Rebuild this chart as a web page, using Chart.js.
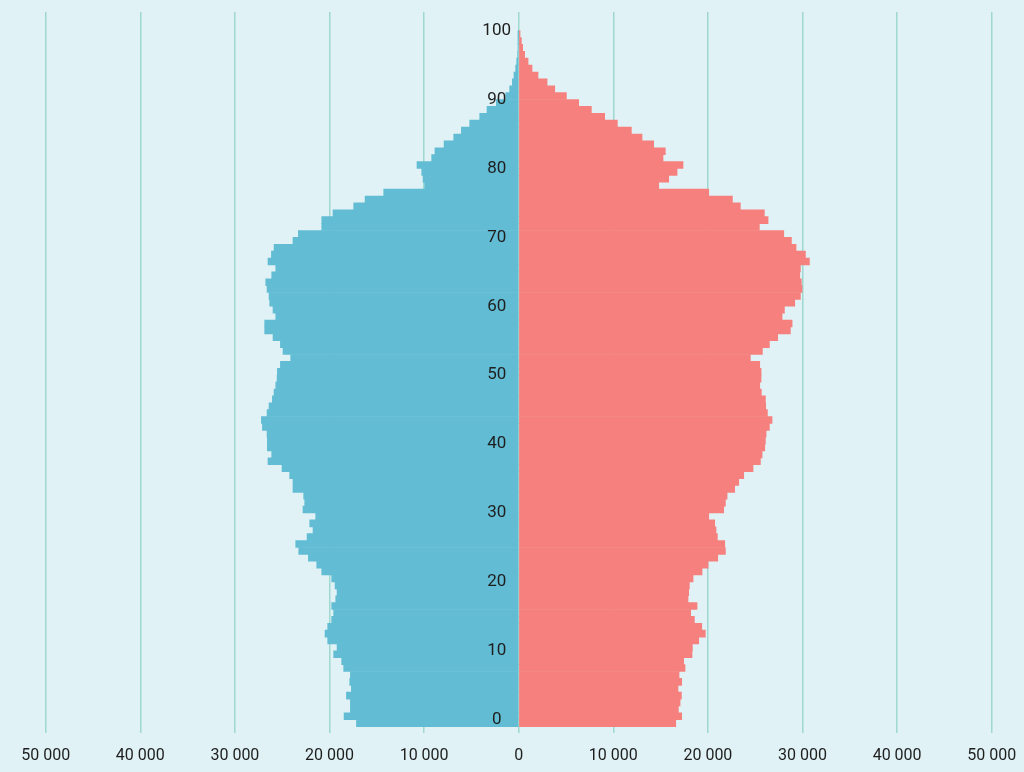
<!DOCTYPE html>
<html>
<head>
<meta charset="utf-8">
<script src="https://cdn.jsdelivr.net/npm/chart.js@4.4.1/dist/chart.umd.min.js"></script>
<style>
  html, body { margin: 0; padding: 0; background: #e0f2f5; }
  #pyramid { display: block; }
</style>
</head>
<body>
<canvas id="pyramid" width="1024" height="772"></canvas>
<script>
const ages = [
  0, 1, 2, 3, 4, 5, 6, 7, 8, 9, 10, 11, 12, 13, 14, 15, 16, 17, 18, 19,
  20, 21, 22, 23, 24, 25, 26, 27, 28, 29, 30, 31, 32, 33, 34, 35, 36, 37, 38, 39,
  40, 41, 42, 43, 44, 45, 46, 47, 48, 49, 50, 51, 52, 53, 54, 55, 56, 57, 58, 59,
  60, 61, 62, 63, 64, 65, 66, 67, 68, 69, 70, 71, 72, 73, 74, 75, 76, 77, 78, 79,
  80, 81, 82, 83, 84, 85, 86, 87, 88, 89, 90, 91, 92, 93, 94, 95, 96, 97, 98, 99, 100,
];

const males = [
  17150, 18460, 17790, 17790, 18210, 17690, 17860, 17790, 18500, 18710,
  19560, 19200, 20190, 20470, 20190, 19770, 19560, 19770, 19340, 19200,
  19410, 19770, 20820, 21350, 22230, 23250, 23570, 22370, 21740, 22090,
  21460, 22800, 22620, 22730, 23860, 23860, 24210, 25020, 26500, 26110,
  26570, 26570, 26600, 27090, 27200, 26600, 26390, 26040, 25860, 25680,
  25540, 25510, 25190, 24100, 24910, 25190, 25970, 26850, 26850, 25680,
  25970, 26320, 26390, 26600, 26740, 26110, 25680, 26500, 26140, 25860,
  23860, 23290, 20820, 20820, 19630, 17440, 16240, 14270, 9940, 10110,
  10250, 10750, 9200, 8850, 7890, 6870, 6060, 5180, 4120, 3350,
  2360, 1370, 950, 670, 500, 320, 210, 110, 70, 40, 20,
];

const females = [
  16600, 17230, 16880, 17060, 17200, 16840, 17230, 16950, 17580, 17440,
  18320, 18360, 19030, 19730, 19350, 18570, 18180, 18850, 17900, 17970,
  18040, 18430, 19380, 20020, 21040, 21850, 21780, 21000, 20860, 20720,
  20090, 21670, 21850, 22030, 22830, 23260, 23790, 24770, 25550, 25730,
  26010, 26080, 26150, 26500, 26780, 26290, 26110, 26080, 25650, 25480,
  25620, 25620, 25480, 24490, 25760, 26500, 27380, 28720, 28900, 27840,
  28090, 29180, 29780, 29950, 29880, 29710, 29780, 30730, 30310, 29320,
  28830, 28020, 25440, 26360, 25970, 23430, 22590, 20090, 14800, 15860,
  16740, 17370, 15260, 15500, 14270, 13040, 11910, 10430, 9090, 7680,
  6340, 5040, 3810, 3000, 2040, 1410, 990, 630, 420, 280, 140,
];

const ageTicks = [0, 10, 20, 30, 40, 50, 60, 70, 80, 90, 100];

function fmt(v) {
  return String(Math.abs(v)).replace(/\B(?=(\d{3})+(?!\d))/g, " ");
}

// age labels sit in the middle, just left of the zero line
const ageLabels = {
  id: "ageLabels",
  afterDraw(chart) {
    const { ctx, scales } = chart;
    const x0 = scales.x.getPixelForValue(0);
    ctx.save();
    ctx.font = "17px Roboto";
    ctx.fillStyle = "#1e1e1e";
    ctx.textAlign = "center";
    ctx.textBaseline = "middle";
    ageTicks.forEach((age) => {
      ctx.fillText(String(age), x0 - 22, scales.y.getPixelForValue(age) - 3.4);
    });
    ctx.restore();
  },
};

new Chart(document.getElementById("pyramid"), {
  type: "bar",
  data: {
    datasets: [
      {
        label: "Hommes",
        data: males.map((v, i) => ({ x: -v, y: ages[i] })),
        backgroundColor: "#62bdd4",
        borderWidth: 0,
        barPercentage: 1,
        categoryPercentage: 1,
      },
      {
        label: "Femmes",
        data: females.map((v, i) => ({ x: v, y: ages[i] })),
        backgroundColor: "#f6807e",
        borderWidth: 0,
        barPercentage: 1,
        categoryPercentage: 1,
      },
    ],
  },
  options: {
    indexAxis: "y",
    responsive: false,
    animation: false,
    layout: { padding: { left: 45.7, right: 32.3, top: 12, bottom: 0 } },
    plugins: {
      legend: { display: false },
      tooltip: { enabled: false },
    },
    scales: {
      x: {
        type: "linear",
        stacked: true,
        min: -50000,
        max: 50000,
        z: 1,
        border: { display: false },
        grid: { color: "#9ed8d0", lineWidth: 1.5, drawTicks: false },
        ticks: {
          stepSize: 10000,
          padding: 4,
          color: "#1e1e1e",
          font: { family: "Roboto", size: 16, lineHeight: 2.375 },
          maxRotation: 0,
          callback: (v) => fmt(v),
        },
        afterFit(scale) {
          scale.height = 39;
        },
      },
      y: {
        type: "linear",
        stacked: true,
        offset: false,
        min: -1.42,
        max: 103.2,
        display: false,
      },
    },
  },
  plugins: [ageLabels],
});
</script>
</body>
</html>
